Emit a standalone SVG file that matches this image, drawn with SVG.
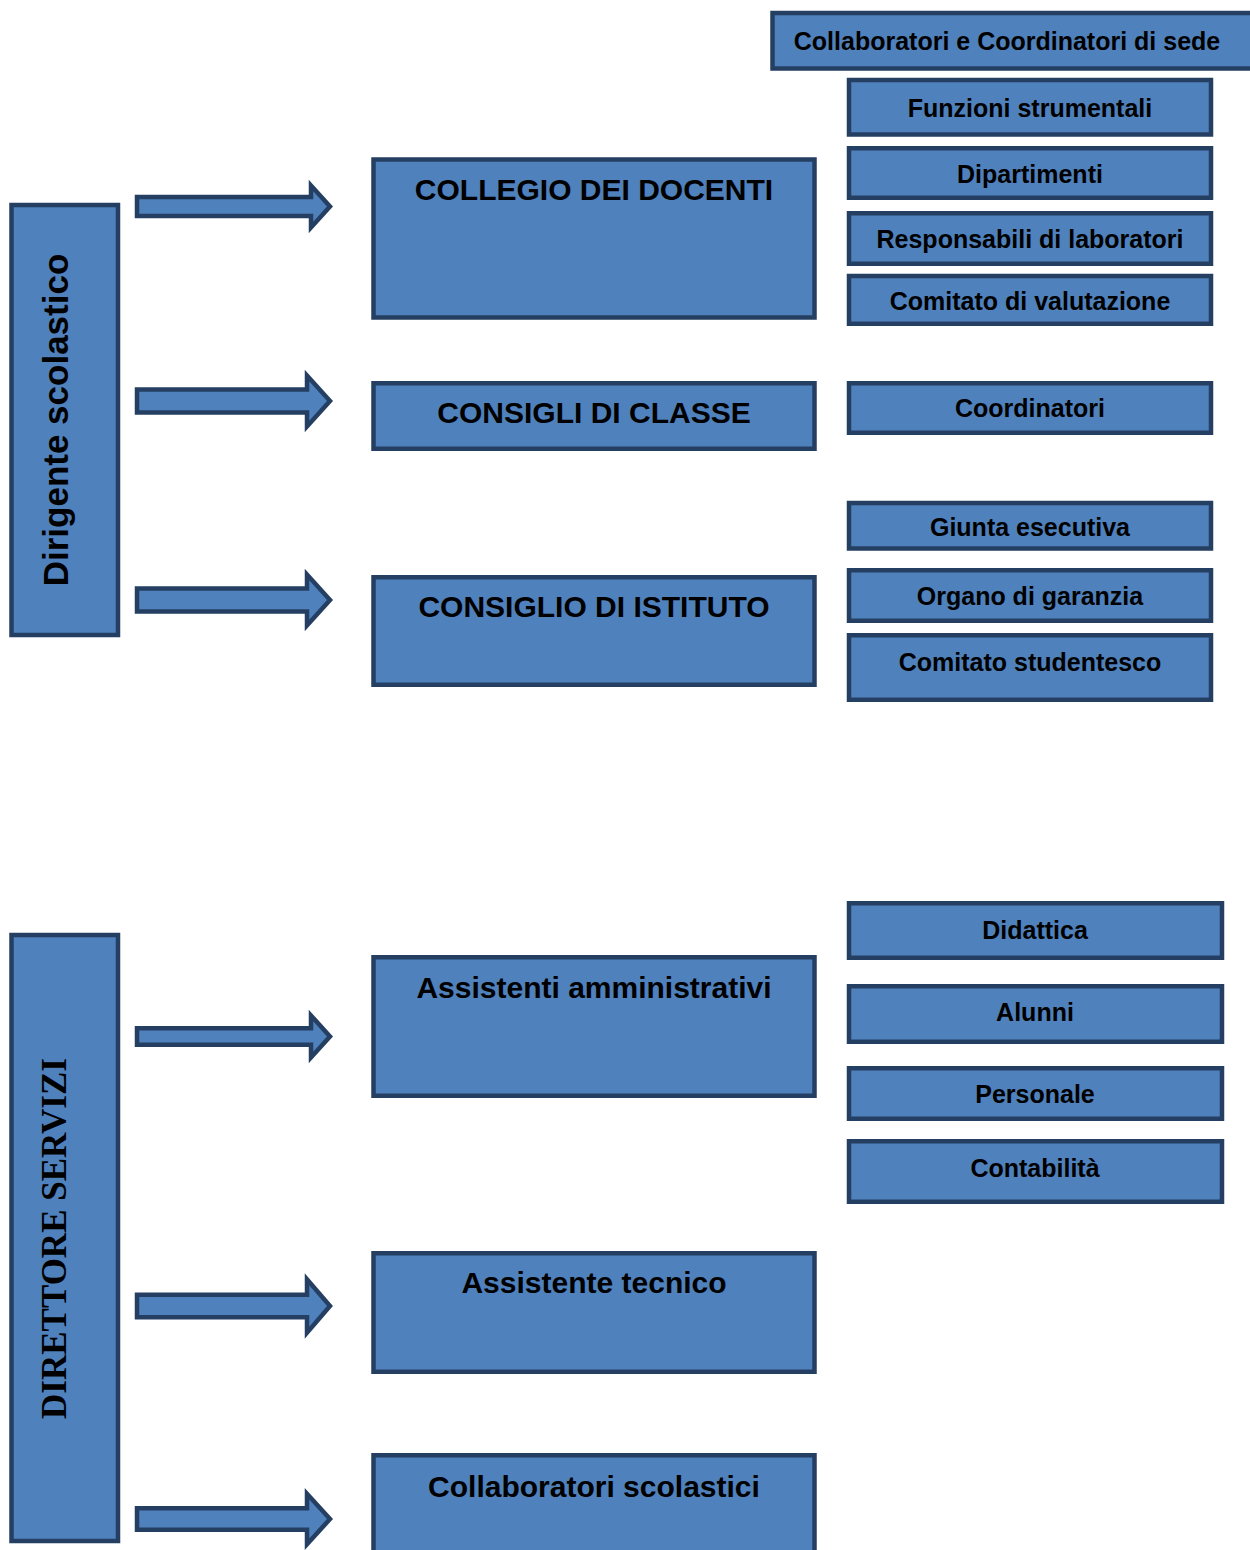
<svg xmlns="http://www.w3.org/2000/svg" width="1250" height="1550" viewBox="0 0 1250 1550">
<style>
.box{fill:#4F81BD;stroke:#253F62;stroke-width:4.5}
.arr{fill:#4F81BD;stroke:#253F62;stroke-width:4.5;stroke-linejoin:miter;stroke-miterlimit:10}
.t{font-family:"Liberation Sans",Arial,sans-serif;font-weight:bold;fill:#000;text-anchor:middle}
.s{font-size:25px}
.m{font-size:30px}
.v{font-size:35px}
.serif{font-family:"Liberation Serif","Times New Roman",serif;font-weight:bold;font-size:35px;fill:#000;text-anchor:middle}
</style>
<rect width="1250" height="1550" fill="#fff"/>
<g id="connectors">
<polygon class="arr" points="137,197 311,197 311,185.5 330,206.5 311,227.5 311,216 137,216"/>
<polygon class="arr" points="137,389.5 307,389.5 307,375.5 330,401 307,426.5 307,412.5 137,412.5"/>
<polygon class="arr" points="137,588.5 307,588.5 307,574.5 330,600 307,625.5 307,611.5 137,611.5"/>
<polygon class="arr" points="137,1028.25 311,1028.25 311,1015.5 330,1036.5 311,1057.5 311,1044.75 137,1044.75"/>
<polygon class="arr" points="137,1294.75 307,1294.75 307,1279.25 330,1306 307,1332.75 307,1317.25 137,1317.25"/>
<polygon class="arr" points="137,1508.25 307,1508.25 307,1493.75 330,1519 307,1544.25 307,1529.75 137,1529.75"/>
</g>
<g id="dirigente">
<rect class="box" x="11.5" y="205" width="106.5" height="430"/>
<text class="t v" transform="translate(68,420) rotate(-90)">Dirigente scolastico</text>
</g>
<g id="direttore">
<rect class="box" x="11.5" y="935" width="106.5" height="606"/>
<text class="serif" transform="translate(65.5,1238.5) rotate(-90)">DIRETTORE SERVIZI</text>
</g>
<g id="collegio">
<rect class="box" x="373.5" y="159.5" width="441" height="158"/>
<text class="t m" x="594" y="200">COLLEGIO DEI DOCENTI</text>
</g>
<g id="consigli-classe">
<rect class="box" x="373.5" y="383.25" width="441" height="65.5"/>
<text class="t m" x="594" y="423">CONSIGLI DI CLASSE</text>
</g>
<g id="consiglio-istituto">
<rect class="box" x="373.5" y="577.25" width="441" height="107.5"/>
<text class="t m" x="594" y="617">CONSIGLIO DI ISTITUTO</text>
</g>
<g id="assistenti-amministrativi">
<rect class="box" x="373.5" y="957.25" width="441" height="138.5"/>
<text class="t m" x="594" y="998">Assistenti amministrativi</text>
</g>
<g id="assistente-tecnico">
<rect class="box" x="373.5" y="1253.25" width="441" height="118.5"/>
<text class="t m" x="594" y="1293">Assistente tecnico</text>
</g>
<g id="collaboratori-scolastici">
<rect class="box" x="373.5" y="1455.25" width="441" height="120"/>
<text class="t m" x="594" y="1497">Collaboratori scolastici</text>
</g>
<g id="collaboratori-coordinatori">
<rect class="box" x="772.5" y="13" width="500" height="55.5"/>
<text class="t s" x="1007" y="49.5">Collaboratori e Coordinatori di sede</text>
</g>
<g id="funzioni">
<rect class="box" x="849" y="80" width="362" height="54.5"/>
<text class="t s" x="1030" y="116.5">Funzioni strumentali</text>
</g>
<g id="dipartimenti">
<rect class="box" x="849" y="148.25" width="362" height="49.5"/>
<text class="t s" x="1030" y="182.5">Dipartimenti</text>
</g>
<g id="responsabili">
<rect class="box" x="849" y="213.25" width="362" height="50.5"/>
<text class="t s" x="1030" y="248">Responsabili di laboratori</text>
</g>
<g id="comitato-valutazione">
<rect class="box" x="849" y="276" width="362" height="47.75"/>
<text class="t s" x="1030" y="310">Comitato di valutazione</text>
</g>
<g id="coordinatori">
<rect class="box" x="849" y="383.25" width="362" height="49.5"/>
<text class="t s" x="1030" y="417">Coordinatori</text>
</g>
<g id="giunta">
<rect class="box" x="849" y="503" width="362" height="45.5"/>
<text class="t s" x="1030" y="536">Giunta esecutiva</text>
</g>
<g id="organo">
<rect class="box" x="849" y="570.25" width="362" height="50.5"/>
<text class="t s" x="1030" y="605">Organo di garanzia</text>
</g>
<g id="comitato-studentesco">
<rect class="box" x="849" y="635.25" width="362" height="64.5"/>
<text class="t s" x="1030" y="671">Comitato studentesco</text>
</g>
<g id="didattica">
<rect class="box" x="849" y="903.25" width="373" height="54.5"/>
<text class="t s" x="1035" y="939">Didattica</text>
</g>
<g id="alunni">
<rect class="box" x="849" y="986.25" width="373" height="55.5"/>
<text class="t s" x="1035" y="1021">Alunni</text>
</g>
<g id="personale">
<rect class="box" x="849" y="1068.25" width="373" height="50.5"/>
<text class="t s" x="1035" y="1103">Personale</text>
</g>
<g id="contabilita">
<rect class="box" x="849" y="1141.25" width="373" height="60.5"/>
<text class="t s" x="1035" y="1177">Contabilità</text>
</g>
</svg>
